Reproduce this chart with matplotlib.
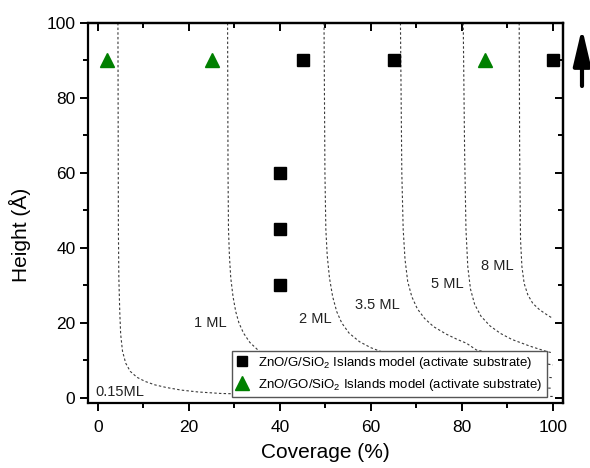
import matplotlib
matplotlib.use("Agg")
import matplotlib.pyplot as plt
from matplotlib.ticker import MultipleLocator

plt.rcParams["font.family"] = ["Liberation Sans", "DejaVu Sans"]
plt.rcParams["mathtext.fontset"] = "custom"
plt.rcParams["mathtext.rm"] = "Liberation Sans"
plt.rcParams["mathtext.it"] = "Liberation Sans:italic"

# measured islands (coverage %, height A)
g_cov = [45, 65, 100, 40, 40, 40]
g_height = [90, 90, 90, 60, 45, 30]
go_cov = [2, 25, 85]
go_height = [90, 90, 90]

# iso-thickness curves
ml_labels = ["0.15ML", "1 ML", "2 ML", "3.5 ML", "5 ML", "8 ML"]
ml_label_x = [-0.6, 24.6, 47.8, 61.5, 76.9, 87.8]
ml_label_y = [1.6, 20.0, 21.0, 24.7, 30.4, 35.2]

c015_x = [4.4, 4.5, 4.6, 4.8, 5.0, 5.4, 6.1, 7.1, 8.6, 10.4, 12.5, 15, 18.3, 22, 27,
          35, 45, 60, 80, 100]
c015_y = [100, 45, 32, 23, 17, 12.5, 9.3, 7.1, 5.5, 4.4, 3.5, 2.8, 2.1, 1.6, 1.2,
          0.95, 0.75, 0.6, 0.45, 0.4]
c1_x = [28.5, 28.6, 28.7, 28.9, 29.2, 29.7, 30.3, 31.0, 32.0, 33.4, 35.6, 38, 40, 45,
        50, 60, 70, 80, 90, 100]
c1_y = [100, 60, 45, 38, 32, 27, 23, 20, 17.3, 14.8, 12.3, 10.6, 9.5, 7.8,
        6.6, 5.0, 4.0, 3.3, 2.9, 2.6]
c2_x = [49.7, 49.9, 50.1, 50.4, 50.9, 51.6, 52.5, 53.6, 55.2, 57.5, 60, 61.5, 65, 70,
        80, 90, 100]
c2_y = [100, 60, 45, 38, 32, 27, 23, 20, 17.3, 15, 13.4, 12.7, 11.2, 9.6,
        7.5, 6.2, 5.4]
c35_x = [66.5, 66.8, 67.1, 67.5, 68.1, 69.0, 70.2, 71.8, 73.8, 76.6, 79.0, 81.0, 83.2,
         90, 100]
c35_y = [100, 60, 45, 37, 31, 27, 23.8, 21.2, 19, 17, 15.6, 14.6, 12.8,
         10.9, 8.8]
c5_x = [80.3, 80.6, 80.9, 81.3, 81.9, 82.8, 84.2, 86.2, 88.5, 91.0, 95.0, 98.6, 100]
c5_y = [100, 66, 45, 35, 29, 25, 21.8, 19.2, 17.2, 15.6, 13.8, 12.4, 12.0]
c8_x = [92.6, 92.7, 92.9, 93.2, 93.7, 94.5, 95.6, 97.1, 98.8, 100]
c8_y = [100, 66, 42, 35, 30.5, 27.5, 25.2, 23.5, 22.1, 21.2]

curves = [(c015_x, c015_y), (c1_x, c1_y), (c2_x, c2_y),
          (c35_x, c35_y), (c5_x, c5_y), (c8_x, c8_y)]

fig = plt.figure(figsize=(5.9, 4.68), dpi=100)
ax = fig.add_axes([0.149, 0.139, 0.805, 0.812])

for cx, cy in curves:
    ax.plot(cx, cy, color="#3a3a3a", linewidth=0.8, linestyle=(0, (2.2, 2.0)),
            dash_joinstyle="round", dash_capstyle="butt", zorder=1)

for lbl, lx, ly in zip(ml_labels, ml_label_x, ml_label_y):
    ax.text(lx, ly, lbl, fontsize=10.5, ha="left" if lbl == "0.15ML" else "center",
            va="center", color="#222222")

ax.plot(g_cov, g_height, linestyle="none", marker="s", markersize=8, color="black",
        clip_on=False, zorder=3,
        label="ZnO/G/SiO$_2$ Islands model (activate substrate)")
ax.plot(go_cov, go_height, linestyle="none", marker="^", markersize=10, color="#008000",
        clip_on=False, zorder=3,
        label="ZnO/GO/SiO$_2$ Islands model (activate substrate)")

ax.set_xlim(-2.2, 102.2)
ax.set_ylim(-1.33, 100)
ax.xaxis.set_major_locator(MultipleLocator(20))
ax.xaxis.set_minor_locator(MultipleLocator(10))
ax.yaxis.set_major_locator(MultipleLocator(20))
ax.yaxis.set_minor_locator(MultipleLocator(10))

for sp in ax.spines.values():
    sp.set_linewidth(1.6)

ax.tick_params(which="major", direction="out", length=6, width=1.4, labelsize=12.5)
ax.tick_params(which="minor", direction="out", length=3.8, width=1.4)
ax.tick_params(axis="x", which="major", pad=6)
ax.tick_params(axis="y", which="major", pad=3)

# mirrored ticks pointing inward on top and right
top = ax.secondary_xaxis("top")
top.xaxis.set_major_locator(MultipleLocator(20))
top.xaxis.set_minor_locator(MultipleLocator(10))
top.tick_params(which="major", direction="in", length=6, width=1.4, labeltop=False)
top.tick_params(which="minor", direction="in", length=3.8, width=1.4)
top.spines["top"].set_linewidth(1.6)
right = ax.secondary_yaxis("right")
right.yaxis.set_major_locator(MultipleLocator(20))
right.yaxis.set_minor_locator(MultipleLocator(10))
right.tick_params(which="major", direction="in", length=6, width=1.4, labelright=False)
right.tick_params(which="minor", direction="in", length=3.8, width=1.4)
right.spines["right"].set_linewidth(1.6)

ax.set_xlabel("Coverage (%)", fontsize=15, labelpad=6)
ax.set_ylabel("Height (Å)", fontsize=15)
ax.yaxis.set_label_coords(-0.12, 0.442)

leg = ax.legend(loc="lower right", bbox_to_anchor=(0.966, 0.016), fontsize=9.5,
                frameon=True, fancybox=False, edgecolor="#555555", framealpha=1,
                borderaxespad=0, borderpad=0.3, labelspacing=0.45,
                handlelength=1.0, handletextpad=0.7, markerscale=0.95)
leg.get_frame().set_linewidth(1.0)
leg.set_zorder(5)

# arrow outside the frame, top right
ax.annotate("", xy=(582, 440), xytext=(582, 382), xycoords="figure pixels",
            textcoords="figure pixels",
            arrowprops=dict(arrowstyle="-|>,head_length=0.85,head_width=0.2",
                            mutation_scale=26, lw=3, color="black",
                            shrinkA=0, shrinkB=0))

fig.savefig("out.png", dpi=100)
